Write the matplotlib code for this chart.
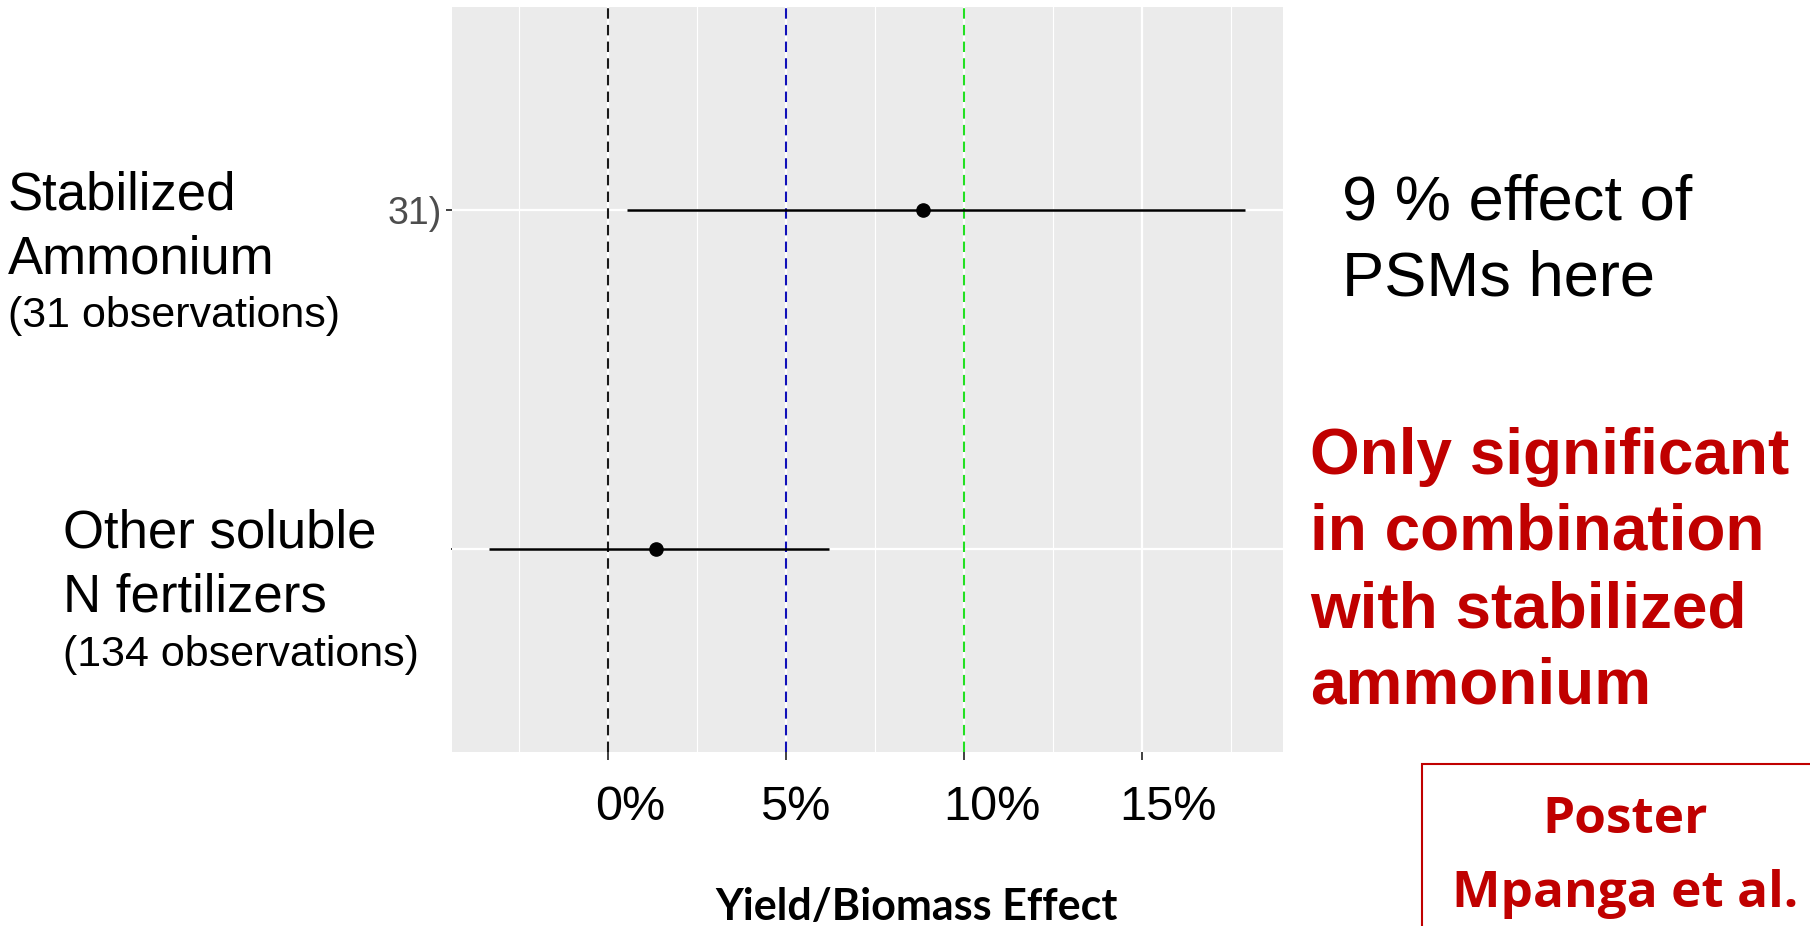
import matplotlib
matplotlib.use("Agg")
import matplotlib.pyplot as plt
from matplotlib.patches import Rectangle
from matplotlib.transforms import ScaledTranslation

# ---------------- data ----------------
rows = [1, 2]
effect = [8.85, 1.35]
ci_low = [0.53, -3.34]
ci_high = [17.89, 6.2]
ytick_labels = ["31)", ""]

xticks = [0, 5, 10, 15]
xtick_labels = ["0%", "5%", "10%", "15%"]
xminor = [-2.5, 2.5, 7.5, 12.5, 17.5]

ref_x = [0, 5, 10]
ref_colors = ["#1a1a1a", "#1010B8", "#22E022"]

left_lines_1 = ["Stabilized", "Ammonium"]
left_small_1 = "(31 observations)"
left_lines_2 = ["Other soluble", "N fertilizers"]
left_small_2 = "(134 observations)"

right_black = ["9 % effect of", "PSMs here"]
right_red = ["Only significant", "in combination", "with stabilized", "ammonium"]
box_lines = ["Poster", "Mpanga et al."]
xlabel = "Yield/Biomass Effect"

RED = "#C00000"
W, H = 1810, 926

fig = plt.figure(figsize=(W / 100, H / 100), dpi=100)
fig.patch.set_facecolor("white")

def fx(px):
    return px / W

def fy(py):
    return 1 - py / H

# panel
L, R, T, B = 452, 1283, 7, 752
ax = fig.add_axes([fx(L), fy(B), fx(R) - fx(L), (B - T) / H])
ax.set_facecolor("#EBEBEB")
for s in ax.spines.values():
    s.set_visible(False)

ax.set_xlim(-4.38, 18.96)
ax.set_ylim(2.6, 0.4)

# grid
ax.set_xticks(xticks)
ax.set_xticks(xminor, minor=True)
ax.set_yticks(rows)
ax.grid(which="major", axis="both", color="white", linewidth=1.6, zorder=0)
ax.grid(which="minor", axis="x", color="white", linewidth=0.8, zorder=0)
ax.set_axisbelow(True)

# reference lines
for xv, c in zip(ref_x, ref_colors):
    ax.axvline(xv, color=c, linestyle=(0, (5, 3)), linewidth=1.5, zorder=2)

# estimates with CI
ax.hlines(rows, ci_low, ci_high, color="black", linewidth=1.8, zorder=3)
ax.plot(effect, rows, "o", color="black", markersize=9.5, zorder=4)

# ticks
ax.tick_params(axis="x", which="major", length=6, width=1.3, color="#333333",
               pad=18, labelsize=35)
ax.tick_params(axis="x", which="minor", length=0)
ax.tick_params(axis="y", which="major", length=4.5, width=1.3, color="#333333",
               pad=3, labelsize=27, labelcolor="#4D4D4D")
ax.set_xticklabels(xtick_labels, fontfamily="Liberation Sans")
ax.set_yticklabels(ytick_labels, fontfamily="Liberation Sans")
ax.yaxis.get_major_ticks()[1].tick1line.set_markersize(1)

offsets_px = [22, 9, 28, 26]
for lab, off in zip(ax.get_xticklabels(), offsets_px):
    lab.set_transform(lab.get_transform() + ScaledTranslation(off / 100, 0, fig.dpi_scale_trans))

ax.set_xlabel(xlabel, fontfamily="Lato", fontweight="bold", fontsize=31,
              va="baseline", ha="center")
ax.xaxis.set_label_coords((917 - L) / (R - L), (B - 920) / (B - T))

# left labels
big, small = 38, 31
for txt, base in zip(left_lines_1, [209, 273]):
    fig.text(fx(8), fy(base), txt, fontsize=big, fontfamily="Liberation Sans", va="baseline")
fig.text(fx(8), fy(327), left_small_1, fontsize=small, fontfamily="Liberation Sans", va="baseline")
for txt, base in zip(left_lines_2, [547, 611]):
    fig.text(fx(63), fy(base), txt, fontsize=big, fontfamily="Liberation Sans", va="baseline")
fig.text(fx(63), fy(666), left_small_2, fontsize=small, fontfamily="Liberation Sans", va="baseline")

# right annotations
for txt, base in zip(right_black, [219, 296]):
    fig.text(fx(1342), fy(base), txt, fontsize=45.5, fontfamily="Liberation Sans", va="baseline")
for txt, base in zip(right_red, [474, 550, 628, 703]):
    fig.text(fx(1310), fy(base), txt, fontsize=46, fontfamily="Liberation Sans",
             fontweight="bold", color=RED, va="baseline")

# poster box
fig.patches.append(Rectangle((fx(1422), fy(935)), fx(1830) - fx(1422), fy(764) - fy(935),
                             transform=fig.transFigure, fill=False, edgecolor=RED,
                             linewidth=1.5, clip_on=False))
for txt, base in zip(box_lines, [833, 907]):
    fig.text(fx(1625), fy(base), txt, fontsize=37, fontfamily="Open Sans", fontweight="bold",
             color=RED, va="baseline", ha="center")

fig.savefig("out.png", dpi=100)
